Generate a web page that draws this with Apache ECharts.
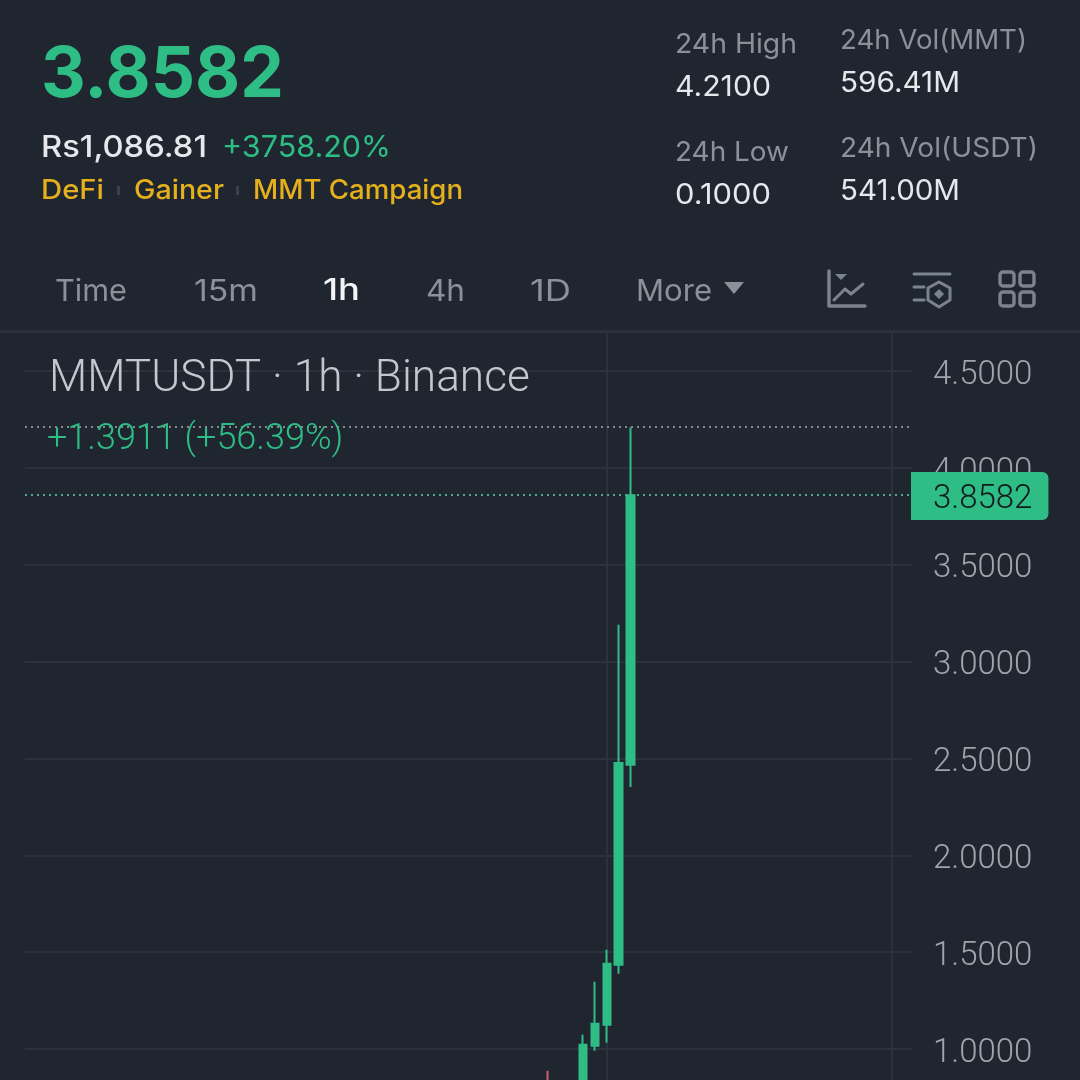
<!DOCTYPE html>
<html><head><meta charset="utf-8">
<style>html,body{margin:0;padding:0;background:#1f2630}#c{width:1080px;height:1080px}</style>
<script src="https://cdn.jsdelivr.net/npm/echarts@6/dist/echarts.min.js"></script>
</head><body><div id="c"></div>
<script>
// Data
const hourIndex = [44, 47, 48, 49, 50, 51];
const opens  = [0.800, 0.740, 1.017, 1.125, 1.435, 2.4671];
const closes = [0.780, 1.022, 1.130, 1.440, 2.477, 3.8582];
const lows   = [0.750, 0.700, 0.991, 1.033, 1.389, 2.353];
const highs  = [0.888, 1.074, 1.347, 1.512, 3.190, 4.2100];
const dayLines = [49, 73];
const lastPrice = 3.8582;
const dayHigh = 4.21;

const BG='#1f2630', GRID='#2b323c', GREEN='#2ebd85', RED='#c8636a', GRAY='#8b9099', LIGHT='#e6e8ec', YEL='#e6b01c';
const HEAD='Inter, "Open Sans", sans-serif', AX='Roboto, sans-serif';
const mctx=document.createElement('canvas').getContext('2d');
// text stretched horizontally to the width seen in the reference (that font has wider tracking)
const txt=(text,x,y,size,w,fill,family,weight)=>{
  const font=`${weight||400} ${size}px ${family||HEAD}`;
  mctx.font=font;
  const sx=w?w/mctx.measureText(text).width:1;
  return {type:'text',z:101,x,y,scaleX:sx,style:{text,x:0,y:0,fill,font,textVerticalAlign:'middle',textAlign:'left'}};
};
const ln=(x1,y1,x2,y2,stroke,w)=>({type:'line',z:101,shape:{x1,y1,x2,y2},style:{stroke,lineWidth:w||3,lineCap:'round'}});
const poly=(points,stroke,w,fill)=>({type:'polyline',z:101,shape:{points},style:{stroke,lineWidth:w||3,fill:fill||null,lineJoin:'round',lineCap:'round'}});
const rr=(x,y,s)=>({type:'rect',z:101,shape:{x,y,width:s,height:s,r:3},style:{fill:null,stroke:'#7d838d',lineWidth:3.4}});
const IC='#7d838d';

const graphics=[
 {type:'rect',z:100,shape:{x:0,y:0,width:1080,height:330},style:{fill:BG}},
 {type:'rect',z:101,shape:{x:0,y:330,width:1080,height:3},style:{fill:'#2a313b'}},
 txt('3.8582',41,76,70,243,GREEN,HEAD,700),
 txt('Rs1,086.81',41,148,30,166,LIGHT,HEAD,500),
 txt('+3758.20%',222,148,30,169,GREEN,HEAD,400),
 txt('DeFi',41,191,27,63,YEL,HEAD,500),
 {type:'rect',z:101,shape:{x:117,y:186,width:3,height:9},style:{fill:'#3a414b'}},
 txt('Gainer',134,191,27,90,YEL,HEAD,500),
 {type:'rect',z:101,shape:{x:236,y:186,width:3,height:9},style:{fill:'#3a414b'}},
 txt('MMT Campaign',253,191,27,210,YEL,HEAD,500),
 txt('24h High',675,45,27,122,GRAY), txt('4.2100',675,88,28,96,LIGHT),
 txt('24h Low',675,153,27,114,GRAY), txt('0.1000',675,196,28,96,LIGHT),
 txt('24h Vol(MMT)',840,41,27,187,GRAY), txt('596.41M',840,84,28,120,LIGHT),
 txt('24h Vol(USDT)',840,149,27,198,GRAY), txt('541.00M',840,192,28,120,LIGHT),
 txt('Time',55,292,30,72,GRAY), txt('15m',194,292,30,64,GRAY),
 txt('1h',323,291,30,37,'#f2f3f5',HEAD,500), txt('4h',426,292,30,39,GRAY),
 txt('1D',530,292,30,41,GRAY), txt('More',636,292,30,76,GRAY),
 {type:'polygon',z:101,shape:{points:[[724,282],[744,282],[734,294]]},style:{fill:GRAY}},
 // chart icon
 poly([[829,271],[829,306],[865,306]],IC,3.4),
 {type:'polygon',z:101,shape:{points:[[835,274],[847,274],[841,280]]},style:{fill:IC}},
 poly([[834,300],[845,289],[851,294],[863,284]],IC,3),
 // settings icon
 ln(914,274,950,274,IC), ln(914,287,924,287,IC), ln(914,300,924,300,IC),
 {type:'polygon',z:101,shape:{points:[[939,282],[950,288],[950,300],[939,307],[928,300],[928,288]]},style:{fill:null,stroke:IC,lineWidth:3,lineJoin:'round'}},
 {type:'polygon',z:101,shape:{points:[[939,289],[944,294],[939,299],[934,294]]},style:{fill:IC}},
 // grid icon
 rr(1000,272,14), rr(1020,272,14), rr(1000,292,14), rr(1020,292,14),
 txt('MMTUSDT · 1h · Binance',49,380,44.2,0,'#c4c7cd',AX,300),
 txt('+1.3911 (+56.39%)',47,440,36,0,GREEN,AX,300)
];

const chart=echarts.init(document.getElementById('c'),null,{renderer:'canvas'});
chart.setOption({
 animation:false,
 backgroundColor:BG,
 grid:{left:25,width:887,top:274.1,height:871.8,containLabel:false,outerBoundsMode:'none'},
 xAxis:{type:'value',min:0,max:74.695,axisLine:{show:false},axisLabel:{show:false},
   axisTick:{show:false,customValues:dayLines},
   splitLine:{show:true,lineStyle:{color:GRID,width:2}}},
 yAxis:{type:'value',position:'right',min:0.5,max:5,interval:0.5,
   axisLine:{show:false},axisTick:{show:false},
   axisLabel:{color:'#a0a4ab',fontFamily:AX,fontSize:33,fontWeight:300,margin:21,verticalAlign:'top',lineHeight:9,formatter:v=>v.toFixed(4)},
   splitLine:{show:true,lineStyle:{color:GRID,width:2}}},
 series:[{
   type:'candlestick',barWidth:8,clip:false,
   encode:{x:0,y:[1,2,3,4]},
   data:hourIndex.map((h,i)=>[h,opens[i],closes[i],lows[i],highs[i]]),
   itemStyle:{color:GREEN,borderColor:GREEN,color0:RED,borderColor0:RED,borderWidth:2},
   markLine:{silent:true,symbol:'none',animation:false,z:20,
     data:[
       {yAxis:dayHigh,lineStyle:{color:'#858a92',type:[2,4],width:2},label:{show:false}},
       {yAxis:lastPrice,lineStyle:{color:'#4fa98c',type:[2,4],width:2},
        label:{show:true,position:'end',formatter:()=>lastPrice.toFixed(4),distance:-1,offset:[0,-23],
          verticalAlign:'top',lineHeight:33,
          color:'#14181f',fontFamily:AX,fontSize:33,fontWeight:300,
          backgroundColor:GREEN,padding:[11,16,4,22],borderRadius:[0,6,6,0]}}
     ]}
 }],
 graphic:{elements:graphics}
});
</script></body></html>
